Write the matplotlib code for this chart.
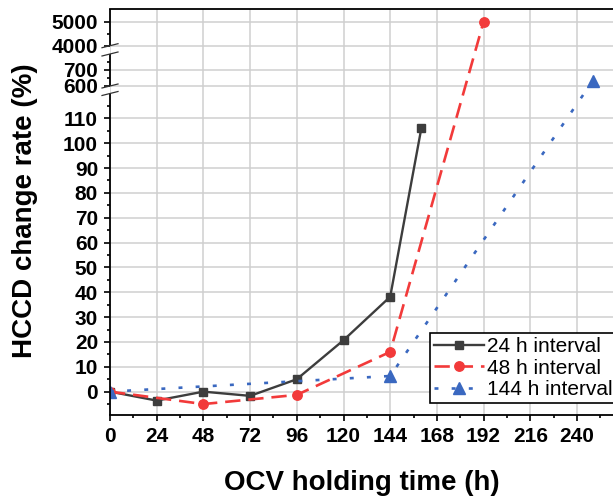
import numpy as np
import matplotlib
matplotlib.use('Agg')
import matplotlib.pyplot as plt
from matplotlib.ticker import FixedLocator
from matplotlib.lines import Line2D
from matplotlib.transforms import IdentityTransform, blended_transform_factory

plt.rcParams['font.family'] = ['Liberation Sans', 'DejaVu Sans']

# values
t24 = [0, 24, 48, 72, 96, 120, 144, 160]
hccd24 = [0, -3.6, 0, -1.7, 5, 20.7, 38.2, 106]
t48 = [0, 48, 96, 144, 192]
hccd48 = [0, -5, -1.3, 16, 5000]
t144 = [0, 144, 248]
hccd144 = [0, 6.3, 630]

xticks = list(range(0, 241, 24))
xminor = list(range(12, 265, 24))
yticks = list(range(0, 111, 10)) + [600, 700, 4000, 5000]
yminor = list(range(-5, 116, 10)) + [650, 750, 4500]

# broken y axis: value knots -> height (px) above the bottom of the axes
V = np.array([-9.4, 120, 600, 800, 4000, 5529])
U = np.array([0, 321.5, 329, 361, 369.3, 406])


def piecewise(x, xs, ys):
    x = np.asarray(x, float)
    y = np.interp(x, xs, ys)
    lo = (ys[1] - ys[0]) / (xs[1] - xs[0])
    hi = (ys[-1] - ys[-2]) / (xs[-1] - xs[-2])
    y = np.where(x < xs[0], ys[0] + (x - xs[0]) * lo, y)
    y = np.where(x > xs[-1], ys[-1] + (x - xs[-1]) * hi, y)
    return y


def fwd(v):
    return piecewise(v, V, U)


def inv(u):
    return piecewise(u, U, V)


fig = plt.figure(figsize=(6.13, 5.0), dpi=100)
ax = fig.add_axes([110/613, 85/500, 513.7/613, 406/500])
ax.set_yscale('function', functions=(fwd, inv))

black = '#3d3d3d'
red = '#f23a3a'
blue = '#3a68c0'

l24, = ax.plot(t24, hccd24, color=black, lw=1.7, marker='s', ms=6.2,
               mec=black, mfc=black, zorder=3)
l48, = ax.plot(t48, hccd48, color=red, lw=1.9, ls=(0, (5.8, 3.0)),
               marker='o', ms=6.8, mec=red, mfc=red, zorder=3)
l144, = ax.plot(t144, hccd144, color=blue, lw=1.9, ls=(0, (1.5, 5.0)),
                marker='^', ms=8, mec=blue, mfc=blue, zorder=3)

ax.set_xlim(0, 264)
ax.set_ylim(V[0], V[-1])

ax.xaxis.set_major_locator(FixedLocator(xticks))
ax.xaxis.set_minor_locator(FixedLocator(xminor))
ax.yaxis.set_major_locator(FixedLocator(yticks))
ax.yaxis.set_minor_locator(FixedLocator(yminor))
ax.set_xticklabels([str(t) for t in xticks])
ax.set_yticklabels([str(v) for v in yticks])

ax.tick_params(which='major', direction='out', length=4.3, width=1.2,
               labelsize=15, pad=4.3)
ax.tick_params(which='minor', direction='out', length=2.5, width=1.2)
for lab in ax.get_xticklabels() + ax.get_yticklabels():
    lab.set_fontweight('bold')

ax.grid(True, which='major', color='#cfcfcf', lw=1.1)
ax.set_axisbelow(True)

for s in ['top', 'bottom']:
    ax.spines[s].set_linewidth(1.3)
ax.spines['right'].set_visible(False)
ax.spines['left'].set_visible(False)

# left spine drawn in three pieces with break marks
btrans = blended_transform_factory(ax.transAxes, ax.transData)
for lo, hi in [(V[0], 120), (600, 800), (4000, V[-1])]:
    ax.plot([0, 0], [lo, hi], transform=btrans, color='black', lw=1.3,
            clip_on=False, solid_capstyle='butt', zorder=4)
x0 = ax.transAxes.transform((0, 0))[0]
for v in [120, 600, 800, 4000]:
    y = ax.transData.transform((0, v))[1]
    fig.add_artist(Line2D([x0 - 8, x0 + 8], [y - 2, y + 2],
                          transform=IdentityTransform(), color='#333333', lw=0.9))

fig.text(32/613, 1 - 210.5/500, 'HCCD change rate (%)', rotation=90,
         rotation_mode='anchor', ha='center', va='baseline',
         fontsize=20, fontweight='bold')
fig.text(362/613, 10/500, 'OCV holding time (h)', ha='center', va='baseline',
         fontsize=20, fontweight='bold')

leg = ax.legend([l24, l48, l144], ['24 h interval', '48 h interval', '144 h interval'],
                loc='upper left', bbox_to_anchor=(430/613, 1 - 333/500),
                bbox_transform=fig.transFigure, borderaxespad=0, fancybox=False,
                edgecolor='black', framealpha=1, fontsize=15, handlelength=2.4,
                handletextpad=0.15, borderpad=0.2, labelspacing=0.12)
leg.get_frame().set_linewidth(1.2)

fig.savefig('out.png', dpi=100)
